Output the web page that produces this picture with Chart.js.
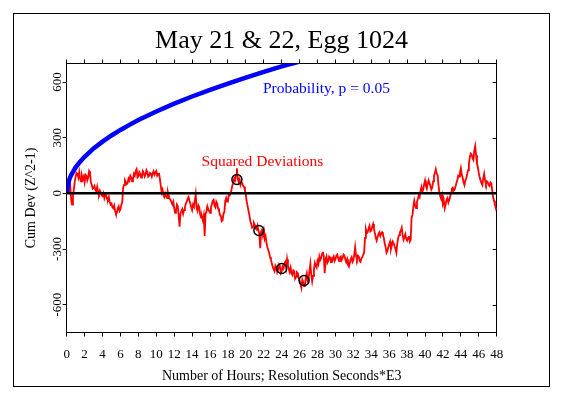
<!DOCTYPE html>
<html>
<head>
<meta charset="utf-8">
<script src="https://cdn.jsdelivr.net/npm/chart.js"></script>
<style>
  html, body { margin: 0; padding: 0; background: #fff; }
  #wrap { width: 563px; height: 396px; position: relative; }
</style>
</head>
<body>
<div id="wrap"><canvas id="eggChart"></canvas></div>
<script>
// cumulative deviation (Z^2-1), one reading every 0.1 hours from 0 to 48
const stepHours = 0.1;
const cumDev = [
  0, 30, 55, 20, 40, -35, -60, -10, 20, 65, 90, 110, 105, 85, 115, 80, 65, 95, 75, 90,
  60, 100, 95, 70, 85, 120, 110, 60, 45, 25, 30, 40, 20, 10, 35, 5, -5, 15, 5, -10,
  -15, 0, -25, -5, -10, -30, -35, -20, -45, -60, -55, -75, -80, -65, -95, -110, -105, -80, -70, -95,
  -85, -60, -50, 30, 45, 70, 60, 50, 55, 80, 70, 95, 85, 65, 75, 105, 95, 120, 130, 85,
  90, 115, 105, 85, 95, 120, 110, 90, 100, 125, 115, 90, 95, 110, 105, 90, 110, 120, 100, 110,
  120, 95, 105, 110, 80, 40, 5, 20, -10, -20, 0, -15, -25, 5, -15, -30, -35, -50, -60, -45,
  -80, -105, -95, -60, -70, -120, -180, -110, -95, -85, -110, -90, -75, -55, -45, -30, -20, -40, -55, -75,
  -90, -60, -70, -40, -5, -80, -95, -65, -75, -115, -130, -125, -145, -120, -230, -110, -100, -70, -85, -95,
  -105, -75, -60, -40, -35, -65, -75, -45, -55, -80, -95, -115, -120, -150, -145, -110, -100, -40, -25, -45,
  -40, -5, -10, 0, 20, 45, 55, 80, 70, 100, 135, 80, 60, 75, 45, 60, 55, 40, 35, 15,
  -10, -45, -70, -95, -120, -150, -165, -185, -180, -160, -170, -190, -195, -175, -200, -215, -295, -205, -190, -225,
  -200, -245, -230, -265, -290, -305, -320, -345, -355, -380, -395, -410, -420, -390, -400, -425, -410, -385, -395, -430,
  -420, -395, -405, -380, -370, -400, -355, -390, -410, -425, -400, -430, -440, -415, -420, -460, -450, -425, -430, -455,
  -470, -490, -510, -465, -480, -500, -495, -450, -430, -470, -460, -420, -380, -440, -475, -445, -410, -375, -390, -400,
  -365, -380, -340, -360, -350, -325, -315, -340, -430, -355, -340, -375, -365, -340, -345, -370, -370, -350, -340, -365,
  -355, -335, -330, -350, -365, -345, -340, -360, -350, -330, -335, -355, -370, -355, -385, -395, -375, -355, -345, -370,
  -360, -330, -290, -340, -355, -335, -340, -365, -370, -350, -345, -330, -320, -240, -195, -215, -210, -190, -175, -205,
  -200, -180, -165, -190, -215, -240, -255, -235, -220, -210, -230, -215, -210, -225, -240, -270, -290, -320, -310, -290,
  -275, -260, -300, -280, -260, -270, -285, -300, -320, -270, -240, -225, -210, -200, -185, -225, -250, -235, -220, -245,
  -255, -240, -230, -260, -250, -130, -115, -70, -40, -65, -80, -45, -30, -10, -20, 15, 35, 10, 20, 50,
  70, 40, 25, 50, 70, 55, 40, 20, 30, 65, 95, 110, 130, 105, 100, 45, 5, -15, -30, -10,
  -55, -40, -80, -60, -35, -25, -50, -35, -20, 5, 25, 30, 15, 20, 35, 55, 70, 95, 90, 110,
  135, 100, 85, 60, 45, 70, 80, 100, 125, 160, 195, 215, 210, 190, 180, 230, 255, 205, 160, 140,
  110, 85, 70, 55, 45, 80, 105, 70, 50, 65, 60, 45, 40, 60, 55, 15, -20, -40, -60, -75,
  -90
];

// p = 0.05 envelope
const probHours  = [0, 0.25, 0.5, 1, 1.5, 2, 3, 4, 5, 6, 7, 8, 10, 12, 14, 16, 18, 20, 22, 24, 26];
const probValues = [0, 70, 99, 140, 171, 197, 242, 279, 312, 342, 369, 395, 441, 484, 522, 558, 592, 624, 655, 684, 711];

// marked events (black circles)
const eventHours  = [19.0, 21.45, 24.0, 26.5];
const eventValues = [75, -200, -405, -470];

const yTickValues = [-600, -300, 0, 300, 600];
const serif = "'Liberation Serif', 'Times New Roman', serif";

const redPoints = cumDev.map((v, i) => ({ x: +(i * stepHours).toFixed(1), y: v }));
const bluePoints = probHours.map((h, i) => ({ x: h, y: probValues[i] }));
const eventPoints = eventHours.map((h, i) => ({ x: h, y: eventValues[i] }));

const frameAndNotes = {
  id: 'frameAndNotes',
  afterDraw(chart) {
    const { ctx, scales: { x, y, y2 } } = chart;
    ctx.save();
    ctx.strokeStyle = '#000';
    ctx.lineWidth = 1;
    ctx.strokeRect(13.5, 13.5, 536, 373);
    // right axis ticks point inward
    ctx.beginPath();
    yTickValues.forEach(v => {
      const py = Math.round(y2.getPixelForValue(v)) + 0.5;
      ctx.moveTo(y2.left, py);
      ctx.lineTo(y2.left - 4, py);
    });
    ctx.stroke();
    ctx.textBaseline = 'middle';
    ctx.font = '15.5px ' + serif;
    ctx.fillStyle = '#0000ff';
    ctx.fillText('Probability, p = 0.05', x.getPixelForValue(21.9), y.getPixelForValue(565));
    ctx.fillStyle = '#ff0000';
    ctx.fillText('Squared Deviations', x.getPixelForValue(15.05), y.getPixelForValue(170));
    ctx.restore();
  }
};

const setYTicks = s => { s.ticks = yTickValues.map(v => ({ value: v })); };

new Chart(document.getElementById('eggChart'), {
  type: 'scatter',
  data: {
    datasets: [
      {
        data: eventPoints,
        showLine: false,
        pointStyle: 'circle',
        pointRadius: 5,
        borderColor: '#000',
        borderWidth: 1.5,
        backgroundColor: 'rgba(0,0,0,0)'
      },
      {
        data: [{ x: 0, y: 0 }, { x: 48, y: 0 }],
        showLine: true,
        borderColor: '#000',
        borderWidth: 2.5,
        pointRadius: 0
      },
      {
        data: bluePoints,
        showLine: true,
        borderColor: '#0000ff',
        borderWidth: 4.5,
        pointRadius: 0,
        clip: 0
      },
      {
        data: redPoints,
        showLine: true,
        borderColor: '#ff0000',
        borderWidth: 1.8,
        pointRadius: 0
      }
    ]
  },
  options: {
    responsive: true,
    maintainAspectRatio: false,
    animation: false,
    layout: { padding: 0 },
    plugins: {
      legend: { display: false },
      tooltip: { enabled: false },
      title: {
        display: true,
        text: 'May 21 & 22, Egg 1024',
        color: '#000',
        font: { family: serif, size: 26, weight: 'normal' },
        padding: { top: 26, bottom: 0 }
      }
    },
    scales: {
      x: {
        type: 'linear',
        position: 'bottom',
        min: 0,
        max: 48,
        ticks: { stepSize: 2, autoSkip: false, maxRotation: 0, color: '#000', padding: 10, font: { family: serif, size: 13 } },
        grid: { drawOnChartArea: false, tickLength: 4, color: '#000' },
        border: { color: '#000', width: 1 },
        title: {
          display: true,
          text: 'Number of Hours; Resolution Seconds*E3',
          color: '#000',
          font: { family: serif, size: 14 },
          padding: { top: 0, bottom: 11.6 }
        },
        afterFit: s => { s.height = 63.5; }
      },
      x2: {
        type: 'linear',
        position: 'top',
        min: 0,
        max: 48,
        ticks: { stepSize: 2, display: false },
        grid: { drawOnChartArea: false, tickLength: 4, color: '#000' },
        border: { color: '#000', width: 1 },
        afterFit: s => { s.height = 6.3; }
      },
      y: {
        type: 'linear',
        position: 'left',
        min: -750,
        max: 700,
        afterBuildTicks: setYTicks,
        ticks: { color: '#000', minRotation: 90, maxRotation: 90, crossAlign: 'center', padding: -7, font: { family: serif, size: 13 } },
        grid: { drawOnChartArea: false, tickLength: 4, color: '#000' },
        border: { color: '#000', width: 1 },
        title: {
          display: true,
          text: 'Cum Dev (Z^2-1)',
          color: '#000',
          font: { family: serif, size: 14 },
          padding: { top: 23, bottom: 0 }
        },
        afterFit: s => { s.width = 66.7; }
      },
      y2: {
        type: 'linear',
        position: 'right',
        min: -750,
        max: 700,
        afterBuildTicks: setYTicks,
        ticks: { display: false },
        grid: { drawOnChartArea: false, drawTicks: false, color: '#000' },
        border: { color: '#000', width: 1 },
        afterFit: s => { s.width = 66.3; }
      }
    }
  },
  plugins: [frameAndNotes]
});
</script>
</body>
</html>
